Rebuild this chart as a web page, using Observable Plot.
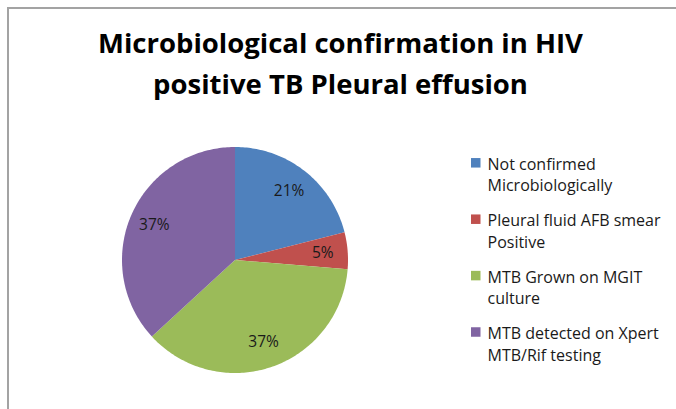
<!DOCTYPE html>
<html><head><meta charset="utf-8">
<script src="https://cdn.jsdelivr.net/npm/d3@7"></script>
<script src="https://cdn.jsdelivr.net/npm/@observablehq/plot@0.6"></script>
<style>
body{margin:0;background:#fff;}
#frame{position:absolute;left:7px;top:7px;width:720px;height:440px;border:2px solid #a3a3a3;box-sizing:border-box;}
#chart{position:absolute;left:0;top:0;}
</style>
</head><body>
<div id="frame"></div>
<div id="chart"></div>
<script>
// ---- data ----
const titleLines = ["Microbiological confirmation in HIV", "positive TB Pleural effusion"];
const categories = [
  "Not confirmed Microbiologically",
  "Pleural fluid AFB smear Positive",
  "MTB Grown on MGIT culture",
  "MTB detected on Xpert MTB/Rif testing"
];
const legendLines = [
  ["Not confirmed", "Microbiologically"],
  ["Pleural fluid AFB smear", "Positive"],
  ["MTB Grown on MGIT", "culture"],
  ["MTB detected on Xpert", "MTB/Rif testing"]
];
const counts = [8, 2, 14, 14];
const percentLabels = ["21%", "5%", "37%", "37%"];
const colors = ["#4F81BD", "#C0504D", "#9BBB59", "#8064A2"];

// ---- layout ----
const W = 676, H = 409;
const cx = 234.5, cy = 259.5, R = 113;
const font = "'Open Sans', Lato, sans-serif";

const arcs = d3.pie().sort(null).value(d => d.count)(
  categories.map((cat, i) => ({cat, count: counts[i], label: percentLabels[i]}))
);

// slice outlines (polygon points along the arc)
const slicePts = [];
arcs.forEach(a => {
  const n = Math.max(2, Math.ceil((a.endAngle - a.startAngle) / (Math.PI / 180)));
  slicePts.push({cat: a.data.cat, x: cx, y: cy});
  for (let k = 0; k <= n; k++) {
    const t = a.startAngle + (a.endAngle - a.startAngle) * k / n;
    slicePts.push({cat: a.data.cat, x: cx + R * Math.sin(t), y: cy - R * Math.cos(t)});
  }
  slicePts.push({cat: a.data.cat, x: cx, y: cy});
});

const labelPts = arcs.map(a => {
  const m = (a.startAngle + a.endAngle) / 2;
  return {label: a.data.label, x: cx + 0.78 * R * Math.sin(m), y: cy - 0.77 * R * Math.cos(m)};
});

const legX = 471, legY0 = 162.8, legStep = 56.4, legLine = 21.5;
const legendSquares = categories.map((cat, i) => ({cat, y: legY0 + i * legStep}));
const legendText = [];
legendLines.forEach((lines, i) => lines.forEach((t, j) =>
  legendText.push({t, y: legY0 + 1.5 + i * legStep + j * legLine})));

const titleData = titleLines.map((t, i) => ({t, y: 43.5 + i * 41}));

const chart = Plot.plot({
  width: W, height: H, margin: 0,
  style: {background: "transparent", fontFamily: font},
  x: {type: "identity", axis: null},
  y: {type: "identity", axis: null},
  color: {domain: categories, range: colors},
  marks: [
    Plot.line(slicePts, {x: "x", y: "y", z: "cat", fill: "cat", stroke: "none", curve: "linear"}),
    Plot.text(labelPts, {x: "x", y: "y", text: "label", fontSize: 15.5, fill: "#1a1a1a"}),
    Plot.text(titleData, {x: () => 340, y: "y", text: "t", fontSize: 27.5, fontWeight: "bold", fill: "#000"}),
    Plot.rect(legendSquares, {x1: () => legX, x2: () => legX + 9.5, y1: d => d.y - 4.75, y2: d => d.y + 4.75, fill: "cat"}),
    Plot.text(legendText, {x: () => 487, y: "y", text: "t", textAnchor: "start", fontSize: 16, fill: "#1a1a1a"})
  ]
});
document.getElementById("chart").appendChild(chart);
</script>
</body></html>
